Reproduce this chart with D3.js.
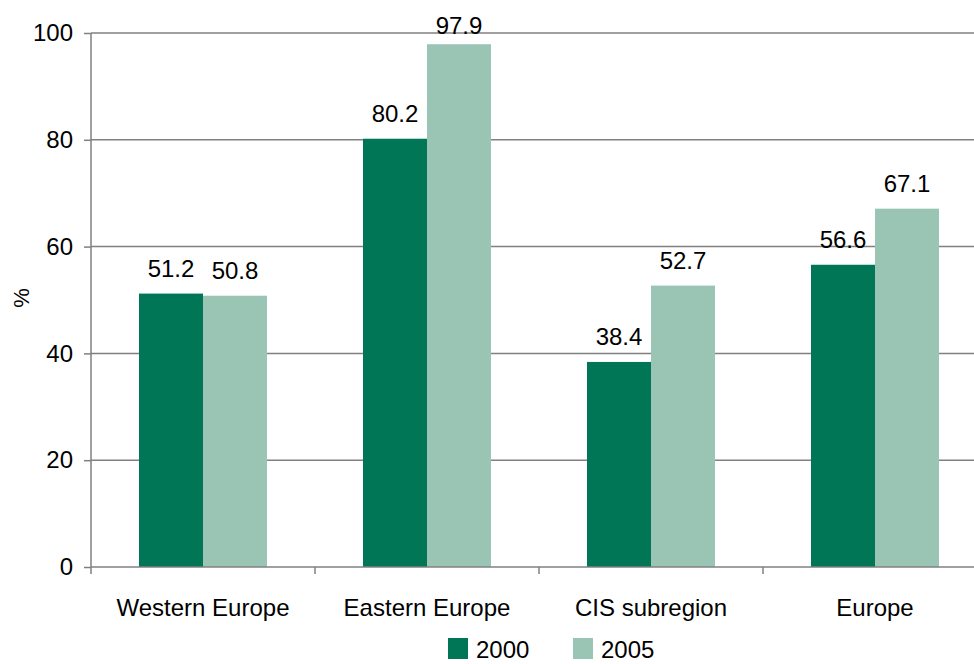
<!DOCTYPE html>
<html>
<head>
<meta charset="utf-8">
<script src="https://cdn.jsdelivr.net/npm/d3@7"></script>
<style>
  html, body { margin: 0; padding: 0; background: #fff; }
  svg { display: block; font-family: "Liberation Sans", Arial, sans-serif; }
</style>
</head>
<body>
<svg id="chart" width="974" height="664"></svg>
<script>
const categories = ["Western Europe", "Eastern Europe", "CIS subregion", "Europe"];
const seriesNames = ["2000", "2005"];
const values2000 = [51.2, 80.2, 38.4, 56.6];
const values2005 = [50.8, 97.9, 52.7, 67.1];
const yTicks = [0, 20, 40, 60, 80, 100];
const colors = ["#007656", "#9ac4b4"];

const FONT = 24;
const svg = d3.select("#chart");
const margin = { left: 91, top: 33 };
const plotW = 896, plotH = 534;
const g = svg.append("g").attr("transform", `translate(${margin.left},${margin.top})`);

const x = d3.scaleBand().domain(categories).range([0, plotW]).paddingInner(0).paddingOuter(0);
const inner = d3.scaleBand().domain(seriesNames).range([48, 176]);
const y = d3.scaleLinear().domain([0, 100]).range([plotH, 0]);

// horizontal gridlines
g.append("g").selectAll("line").data(yTicks.filter(d => d > 0)).join("line")
  .attr("x1", 0).attr("x2", plotW)
  .attr("y1", d => y(d)).attr("y2", d => y(d))
  .attr("stroke", "#808080").attr("stroke-width", 1.5);

// bars
const series = [values2000, values2005];
const groups = g.append("g").selectAll("g").data(categories).join("g")
  .attr("transform", d => `translate(${x(d)},0)`);

const cells = (c, i) => seriesNames.map((s, j) => ({ s, v: series[j][i], j }));

groups.selectAll("rect").data(cells).join("rect")
  .attr("x", d => inner(d.s))
  .attr("width", inner.bandwidth())
  .attr("y", d => y(d.v))
  .attr("height", d => plotH - y(d.v))
  .attr("fill", d => colors[d.j]);

// value labels above bars, kept inside the top of the chart
groups.selectAll("text").data(cells).join("text")
  .attr("x", d => inner(d.s) + inner.bandwidth() / 2)
  .attr("y", d => Math.max(y(d.v) - 17, 1))
  .attr("text-anchor", "middle")
  .attr("font-size", FONT)
  .attr("fill", "#000")
  .text(d => d.v.toFixed(1));

// y axis
const yAxis = g.append("g").call(d3.axisLeft(y).tickValues(yTicks).tickSize(7).tickPadding(11));
yAxis.select(".domain").attr("stroke", "#808080").attr("stroke-width", 1.5).attr("d", `M0,${plotH}V0`);
yAxis.selectAll(".tick line").attr("stroke", "#808080").attr("stroke-width", 1.5);
yAxis.selectAll(".tick text").attr("font-size", FONT).attr("fill", "#000")
  .attr("font-family", "Liberation Sans, Arial, sans-serif");

// x axis
const xAxis = g.append("g").attr("transform", `translate(0,${plotH})`)
  .call(d3.axisBottom(x).tickSize(0).tickPadding(32));
xAxis.select(".domain").attr("stroke", "#808080").attr("stroke-width", 1.5).attr("d", `M0,0H${plotW}`);
xAxis.selectAll(".tick text").attr("font-size", FONT).attr("fill", "#000")
  .attr("font-family", "Liberation Sans, Arial, sans-serif");
// category separators
g.append("g").selectAll("line").data(d3.range(categories.length + 1)).join("line")
  .attr("x1", i => i * x.step()).attr("x2", i => i * x.step())
  .attr("y1", plotH).attr("y2", plotH + 7)
  .attr("stroke", "#808080").attr("stroke-width", 1.5);

// y axis title
svg.append("text")
  .attr("transform", "translate(29,298) rotate(-90)")
  .attr("text-anchor", "middle")
  .attr("font-size", 22)
  .text("%");

// legend
const legend = svg.append("g").attr("transform", "translate(448,638)");
const items = legend.selectAll("g").data(seriesNames).join("g")
  .attr("transform", (d, i) => `translate(${i * 125},0)`);
items.append("rect").attr("width", 20).attr("height", 21).attr("fill", (d, i) => colors[i]);
items.append("text").attr("x", 28).attr("y", 20).attr("font-size", FONT).text(d => d);
</script>
</body>
</html>
